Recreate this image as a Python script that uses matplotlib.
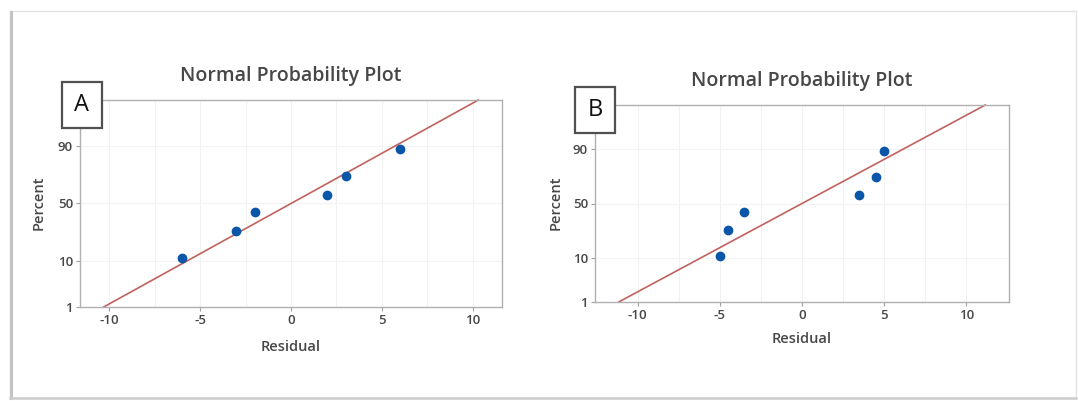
import numpy as np
import matplotlib
matplotlib.use("Agg")
import matplotlib.pyplot as plt
from matplotlib.patches import Rectangle
from statistics import NormalDist

plt.rcParams['font.family'] = ['Open Sans', 'DejaVu Sans']

# ---- data ----
residuals_A = [-6, -3, -2, 2, 3, 6]
residuals_B = [-5, -4.5, -3.5, 3.5, 4.5, 5]
percents = [10.9, 26.6, 42.2, 57.8, 73.4, 89.1]
y_ticks = [1, 10, 50, 90]
x_ticks = [-10, -5, 0, 5, 10]
panel_labels = ["A", "B"]
title = "Normal Probability Plot"
xlabel = "Residual"
ylabel = "Percent"

ND = NormalDist()

def fwd(p):
    p = np.asarray(p, dtype=float)
    flat = p.ravel()
    res = np.empty(flat.shape)
    for i, v in enumerate(flat):
        if 0 < v < 100:
            res[i] = ND.inv_cdf(v / 100.0)
        elif v <= 0:
            res[i] = -8.0
        else:
            res[i] = 8.0
    return res.reshape(p.shape)

def inv(z):
    z = np.asarray(z, dtype=float)
    flat = z.ravel()
    res = np.array([ND.cdf(v) * 100.0 for v in flat])
    return res.reshape(z.shape)

W, H = 1078, 401
fig = plt.figure(figsize=(W / 100, H / 100), dpi=100)
fig.patch.set_facecolor('white')

# outer frame
fig.add_artist(Rectangle((10 / W, 1 - 398 / H), 1066 / W, 387 / H, transform=fig.transFigure,
                         fill=False, edgecolor='#e2e2e2', lw=1.0))
fig.add_artist(plt.Line2D([10.5 / W, 10.5 / W], [1 - 398 / H, 1 - 12 / H], transform=fig.transFigure,
                          color='#c4c4c4', lw=2.2))
fig.add_artist(plt.Line2D([10 / W, 1076 / W], [1 - 398 / H, 1 - 398 / H], transform=fig.transFigure,
                          color='#cccccc', lw=1.8))

panels = [
    dict(res=residuals_A, box=(80, 502, 100, 307), xl=11.6,
         title_xy=(291, 76), xlab_xy=(291, 347), ylab_xy=(39, 203), lab_box=(62, 102, 82, 128)),
    dict(res=residuals_B, box=(595, 1009, 105, 302), xl=12.6,
         title_xy=(802, 81), xlab_xy=(802, 339), ylab_xy=(556, 203), lab_box=(575, 615, 87, 133)),
]

txt = '#474747'
for lab, P in zip(panel_labels, panels):
    l, r, t, b = P['box']
    ax = fig.add_axes([l / W, 1 - b / H, (r - l) / W, (b - t) / H])
    ax.set_yscale('function', functions=(fwd, inv))
    ax.set_xlim(-P['xl'], P['xl'])
    ax.set_ylim(1, 99)

    res = np.array(sorted(P['res']), dtype=float)
    mu = res.mean()
    sd = res.std(ddof=1)

    for gx in np.arange(-10, 10.01, 2.5):
        ax.axvline(gx, color='#f1f1f1', lw=0.8, zorder=0)
    for gy in [10, 50, 90]:
        ax.axhline(gy, color='#f3f3f3', lw=0.8, zorder=0)

    zline = np.linspace(-2.3263, 2.3263, 200)
    xline = mu + sd * zline
    pline = inv(zline)
    ax.plot(xline, pline, color='#c0625e', lw=1.2, zorder=2, clip_on=False)

    ax.plot(res, percents, 'o', color='#0a56a8', ms=6, mec='#0a56a8', zorder=3)

    ax.set_yticks(y_ticks)
    ax.set_yticklabels([str(v) for v in y_ticks])
    ax.yaxis.set_minor_locator(matplotlib.ticker.NullLocator())
    ax.set_xticks(x_ticks)
    ax.set_xticklabels([str(v) for v in x_ticks])
    ax.tick_params(axis='both', colors='#a0a0a0', labelcolor=txt, labelsize=9.5, length=3, width=0.8, pad=2)
    for lbl in ax.get_xticklabels() + ax.get_yticklabels():
        lbl.set_fontweight('semibold')
    for s in ax.spines.values():
        s.set_color('#b0b0b0')
        s.set_linewidth(1.0)

    fig.text(P['title_xy'][0] / W, 1 - P['title_xy'][1] / H, title, ha='center', va='center',
             fontsize=14, color=txt, fontweight='semibold')
    fig.text(P['xlab_xy'][0] / W, 1 - P['xlab_xy'][1] / H, xlabel, ha='center', va='center',
             fontsize=10.5, color=txt, fontweight='semibold')
    fig.text(P['ylab_xy'][0] / W, 1 - P['ylab_xy'][1] / H, ylabel, ha='center', va='center',
             fontsize=10.5, color=txt, rotation=90, fontweight='semibold')

    bl, br, bt, bb = P['lab_box']
    fig.add_artist(Rectangle((bl / W, 1 - bb / H), (br - bl) / W, (bb - bt) / H, transform=fig.transFigure,
                             facecolor='white', edgecolor='#505050', lw=1.6, zorder=10))
    fig.text((bl + br) / 2 / W, 1 - (bt + bb) / 2 / H, lab, ha='center', va='center',
             fontsize=17, color='#111111', zorder=11)

fig.savefig('out.png', dpi=100)
